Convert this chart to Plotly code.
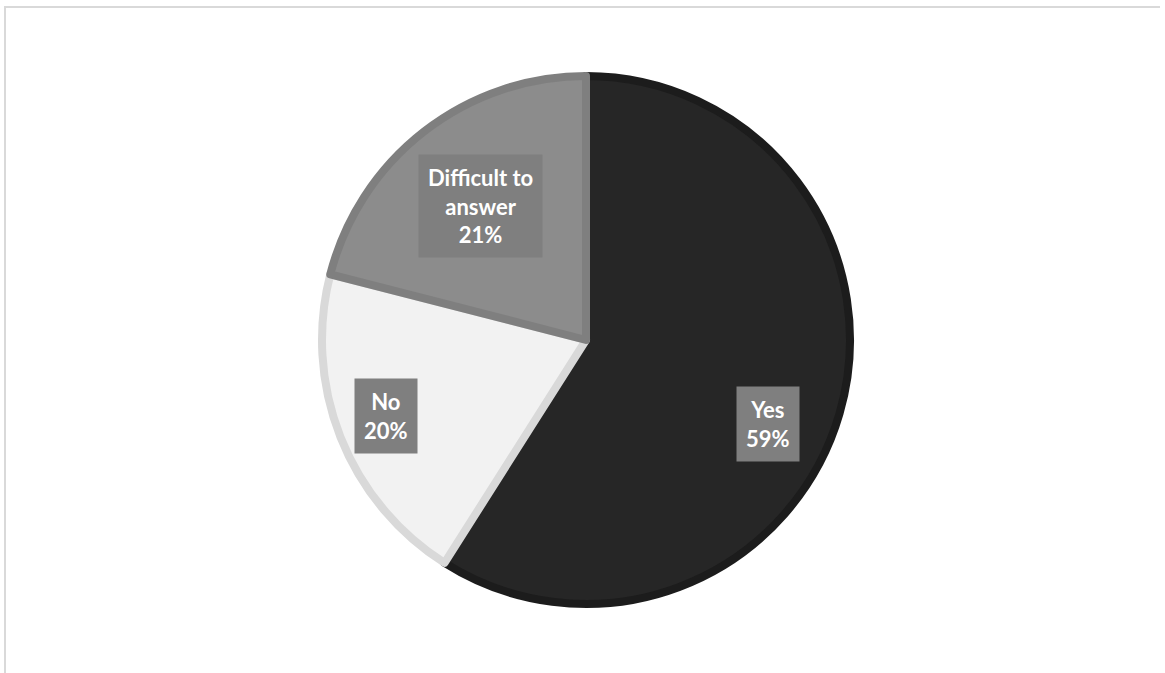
import math
import plotly.graph_objects as go

# Data
categories = ["Yes", "No", "Difficult to answer"]
values = [59, 20, 21]
label_text = ["Yes", "No", "Difficult to<br>answer"]

# Styles
fill_colors = ["#262626", "#f2f2f2", "#8c8c8c"]
edge_colors = ["#1c1c1c", "#d9d9d9", "#7f7f7f"]
label_radius = [0.75, 0.80, 0.64]
label_angle_shift = [8.5, 0.8, -0.5]

W, H = 1165, 673
cx, cy, R = 586, 340, 264  # pixel geometry of pie area

dom_x = [(cx - R) / W, (cx + R) / W]
dom_y = [1 - (cy + R) / H, 1 - (cy - R) / H]

fig = go.Figure()
fig.add_trace(go.Pie(
    labels=categories,
    values=values,
    sort=False,
    direction="clockwise",
    rotation=0,
    textinfo="none",
    hoverinfo="none",
    showlegend=False,
    domain=dict(x=dom_x, y=dom_y),
    marker=dict(colors=fill_colors, line=dict(color=edge_colors, width=8)),
))

total = sum(values)
cum = 0
for i, v in enumerate(values):
    mid = (cum + v / 2) / total * 360 + label_angle_shift[i]
    cum += v
    r = 267 * label_radius[i]
    px = cx + r * math.sin(math.radians(mid))
    py = cy - r * math.cos(math.radians(mid))
    pct = round(v / total * 100)
    fig.add_annotation(
        x=px / W, y=1 - py / H, xref="paper", yref="paper",
        text=f"{label_text[i]}<br>{pct}%",
        showarrow=False,
        font=dict(family="Lato", size=22, color="white", weight="bold"),
        bgcolor="#7f7f7f",
        borderpad=9,
        xanchor="center", yanchor="middle",
    )

# frame lines (chart area border)
fig.add_shape(type="line", xref="paper", yref="paper",
              x0=4 / W, x1=1160 / W, y0=1 - 7 / H, y1=1 - 7 / H,
              line=dict(color="#d9d9d9", width=2))
fig.add_shape(type="line", xref="paper", yref="paper",
              x0=5 / W, x1=5 / W, y0=0, y1=1 - 7 / H,
              line=dict(color="#d9d9d9", width=2))

fig.update_layout(
    width=W, height=H,
    margin=dict(l=0, r=0, t=0, b=0),
    paper_bgcolor="white",
    plot_bgcolor="white",
)

fig.write_html("out.html", config={"displayModeBar": False},
               post_script="document.body.style.margin='0';")
